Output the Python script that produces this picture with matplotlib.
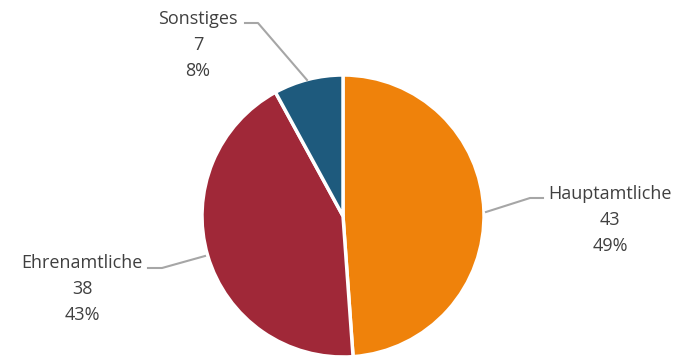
import matplotlib.pyplot as plt

# data
labels = ['Hauptamtliche', 'Ehrenamtliche', 'Sonstiges']
values = [43, 38, 7]
colors = ['#EF820B', '#A02838', '#1E5A7D']

W, H = 684, 356

plt.rcParams['font.family'] = ['Open Sans', 'DejaVu Sans']

fig = plt.figure(figsize=(W / 100, H / 100), dpi=100)
ax = fig.add_axes([0, 0, 1, 1])
ax.set_xlim(0, W)
ax.set_ylim(0, H)
ax.set_aspect('equal')
ax.axis('off')

# pie in pixel units (y measured from bottom)
ax.pie(values, colors=colors, startangle=90, counterclock=False,
       center=(343, H - 216), radius=141,
       wedgeprops=dict(edgecolor='white', linewidth=2.5))
ax.set_xlim(0, W)
ax.set_ylim(0, H)

total = sum(values)
# label text positions and leader lines (image pixel coords)
label_pos = {
    'Hauptamtliche': (610, 220),
    'Ehrenamtliche': (82, 289),
    'Sonstiges': (198, 45),
}
leaders = {
    'Hauptamtliche': [(486, 212), (530, 198), (543, 198)],
    'Ehrenamtliche': [(205, 256), (162, 268), (148, 268)],
    'Sonstiges': [(307, 80), (258, 23), (245, 23)],
}

for lab, v in zip(labels, values):
    x, y = label_pos[lab]
    txt = f'{lab}\n{v}\n{round(100 * v / total)}%'
    ax.text(x, H - y, txt, ha='center', va='center', fontsize=13,
            color='#404040', linespacing=1.6)
    pts = leaders[lab]
    ax.plot([p[0] for p in pts], [H - p[1] for p in pts],
            color='#A6A6A6', linewidth=1.5)

fig.savefig('out.png', dpi=100)
